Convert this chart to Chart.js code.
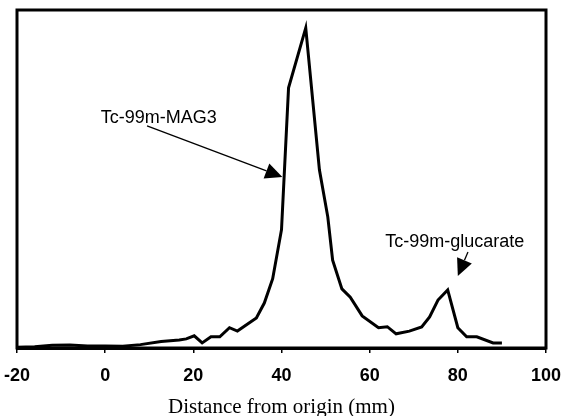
<!DOCTYPE html>
<html>
<head>
<meta charset="utf-8">
<script src="https://cdn.jsdelivr.net/npm/chart.js@4"></script>
<style>
  body { margin: 0; background: #fff; }
</style>
</head>
<body>
<canvas id="myChart" width="563" height="416"></canvas>
<script>
// distance (mm) and relative activity
const distance = [-20, -16, -12, -8, -4, 0, 4, 8, 12.7, 16.8, 18.4, 20.2, 22, 24, 26, 28.2, 30, 34.3, 36.1, 38,
    40, 41.6, 45.5, 48.6, 50.5, 51.6, 53.7, 55.6, 58.3, 62, 64, 66, 69, 71.8, 73.6, 75.5, 77.7, 80, 82, 84.3, 88, 90];
const activity = [0.2, 0.4, 0.8, 0.9, 0.6, 0.6, 0.5, 1.0, 1.9, 2.4, 2.7, 3.6, 1.5, 3.3, 3.3, 6.0, 5.0, 8.9, 13.3, 20.5,
    35, 77, 94.7, 52.7, 38.8, 26, 17.5, 15, 9.5, 6, 6.3, 4.2, 5, 6.2, 9.2, 14.2, 17.2, 6, 3.3, 3.3, 1.5, 1.5];
const tickValues = [-20, 0, 20, 40, 60, 80, 100];

// peak labels: text anchor, arrow start, arrow tip (data coords)
const peakLabels = ['Tc-99m-MAG3', 'Tc-99m-glucarate'];
const labelAt = [[-1, 68], [79.3, 31.4]];
const arrowFrom = [[9.5, 65.7], [82.3, 28.4]];
const arrowTo = [[40.2, 50.6], [80, 21.3]];

const ctx = document.getElementById('myChart');

const frame = {
    id: 'frame',
    afterDraw: (chart) => {
        const { ctx, chartArea: a } = chart;
        ctx.save();
        ctx.strokeStyle = '#000';
        ctx.lineWidth = 3;
        ctx.strokeRect(a.left, a.top, a.right - a.left, a.bottom - a.top);
        ctx.restore();
    }
};

const arrows = {
    id: 'arrows',
    afterDraw: (chart) => {
        const { ctx } = chart;
        const xs = chart.scales.x, ys = chart.scales.y;
        ctx.save();
        ctx.fillStyle = '#000';
        ctx.strokeStyle = '#000';
        ctx.font = '18px "Liberation Sans", Arial, sans-serif';
        ctx.textBaseline = 'middle';
        peakLabels.forEach((txt, i) => {
            const tx = xs.getPixelForValue(labelAt[i][0]);
            const ty = ys.getPixelForValue(labelAt[i][1]);
            ctx.textAlign = i === 0 ? 'left' : 'center';
            ctx.fillText(txt, tx, ty);

            const x1 = xs.getPixelForValue(arrowFrom[i][0]), y1 = ys.getPixelForValue(arrowFrom[i][1]);
            const x2 = xs.getPixelForValue(arrowTo[i][0]), y2 = ys.getPixelForValue(arrowTo[i][1]);
            const ang = Math.atan2(y2 - y1, x2 - x1);
            const len = 17, half = 8;
            const bx = x2 - len * Math.cos(ang), by = y2 - len * Math.sin(ang);
            ctx.lineWidth = 1.3;
            ctx.beginPath();
            ctx.moveTo(x1, y1);
            ctx.lineTo(bx, by);
            ctx.stroke();
            ctx.beginPath();
            ctx.moveTo(x2, y2);
            ctx.lineTo(bx + half * Math.sin(ang), by - half * Math.cos(ang));
            ctx.lineTo(bx - half * Math.sin(ang), by + half * Math.cos(ang));
            ctx.closePath();
            ctx.fill();
        });
        ctx.restore();
    }
};

new Chart(ctx, {
    type: 'line',
    data: {
        datasets: [{
            data: distance.map((d, i) => ({ x: d, y: activity[i] })),
            borderColor: '#000',
            borderWidth: 3,
            pointRadius: 0,
            tension: 0,
            fill: false
        }]
    },
    options: {
        responsive: false,
        animation: false,
        layout: { padding: { left: 17, right: 17, top: 10, bottom: 0 } },
        plugins: { legend: { display: false }, tooltip: { enabled: false } },
        scales: {
            x: {
                type: 'linear',
                min: -20,
                max: 100,
                afterBuildTicks: (scale) => {
                    scale.ticks = tickValues.map(v => ({ value: v }));
                },
                afterFit: (scale) => {
                    scale.height = 68;
                    scale.paddingLeft = 0;
                    scale.paddingRight = 0;
                },
                grid: { drawOnChartArea: false, drawTicks: true, tickLength: 5, color: '#000', lineWidth: 1.5 },
                border: { display: true, color: '#000', width: 3 },
                ticks: {
                    padding: 12,
                    color: '#000',
                    maxRotation: 0,
                    font: { family: '"Liberation Sans", Arial, sans-serif', size: 18, weight: 'bold' }
                },
                title: {
                    display: true,
                    text: 'Distance from origin (mm)',
                    color: '#000',
                    padding: { top: 0, bottom: 0 },
                    font: { family: '"Liberation Serif", "Times New Roman", serif', size: 21, lineHeight: 0.8 }
                }
            },
            y: {
                display: false,
                min: 0,
                max: 100
            }
        }
    },
    plugins: [frame, arrows]
});
</script>
</body>
</html>
